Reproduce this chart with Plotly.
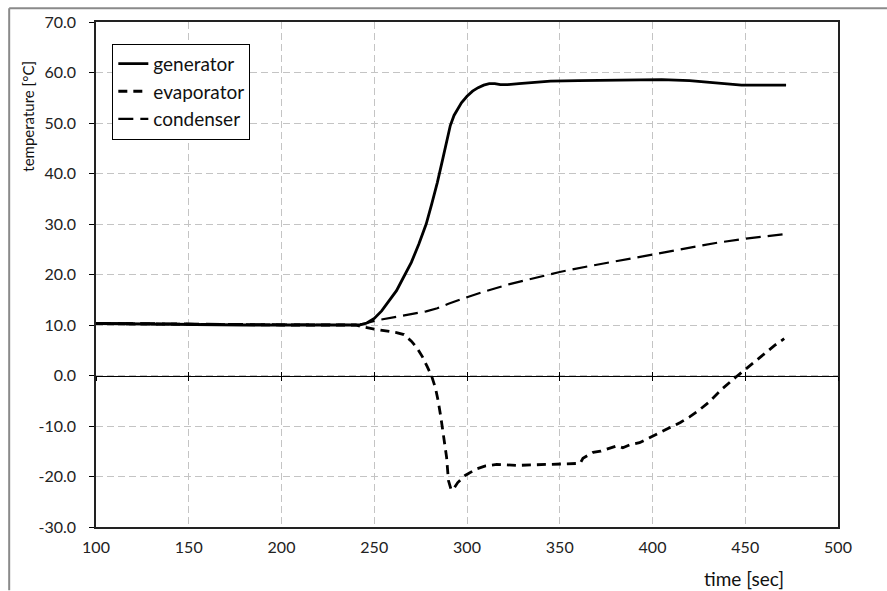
import plotly.graph_objects as go

# ---- data ----
gen_t = [100, 120, 150, 180, 210, 235, 242, 246, 250, 254, 258, 262, 266, 270, 274, 278, 281, 284, 287, 289,
         291, 293, 295, 297, 300, 303, 306, 309, 312, 315, 318, 322, 328, 335, 345, 360, 375, 390, 405, 420,
         430, 440, 448, 460, 472]
gen_v = [10.3, 10.2, 10.1, 10.0, 10.0, 10.0, 10.0, 10.4, 11.3, 12.8, 14.7, 16.8, 19.6, 22.4, 26.0, 30.0, 34.0, 38.2, 43.0, 46.5,
         49.5, 51.5, 52.9, 54.0, 55.3, 56.3, 57.0, 57.5, 57.8, 57.8, 57.6, 57.6, 57.8, 58.0, 58.3, 58.4, 58.5, 58.6, 58.6, 58.4,
         58.1, 57.7, 57.5, 57.5, 57.5]

evap_t = [100, 150, 200, 240, 244, 250, 256, 262, 266, 270, 273, 276, 278.5, 281, 283, 284.5, 286, 287.5, 289, 290,
          291.5, 293, 295, 299, 305, 310, 316, 327, 340, 350, 361, 362.5, 365, 368, 372, 375, 378, 381, 384, 388,
          393, 400, 405, 411, 415, 420, 425, 430, 438, 445, 452, 460, 466, 471]
evap_v = [10.3, 10.1, 10.0, 10.0, 9.6, 9.2, 8.9, 8.5, 8.1, 6.8, 5.5, 3.7, 1.8, -0.2, -2.5, -5.1, -8.5, -12.0, -16.2, -20.8,
          -22.7, -22.3, -21.2, -19.8, -18.5, -17.9, -17.6, -17.8, -17.6, -17.5, -17.4, -16.4, -15.8, -15.2, -15.0, -14.6, -14.3, -13.9, -14.3, -13.7,
          -13.3, -12.0, -11.1, -10.0, -9.3, -8.2, -6.9, -5.4, -2.5, -0.3, 1.8, 4.3, 6.0, 7.3]

cond_t = [100, 150, 200, 240, 245, 251, 260, 270, 278, 284, 290, 300, 310, 323, 335, 350, 365, 377, 390, 404,
          420, 435, 450, 462, 471]
cond_v = [10.4, 10.2, 10.1, 10.0, 10.3, 10.9, 11.5, 12.1, 12.7, 13.3, 14.2, 15.5, 16.7, 18.1, 19.2, 20.5, 21.6, 22.4, 23.3, 24.2,
          25.3, 26.3, 27.1, 27.6, 28.0]

x_ticks = [100, 150, 200, 250, 300, 350, 400, 450, 500]
y_ticks = [-30, -20, -10, 0, 10, 20, 30, 40, 50, 60, 70]
y_labels = [f"{v:.1f}" for v in y_ticks]

FONT = "Lato, 'Open Sans', sans-serif"

fig = go.Figure()
fig.add_trace(go.Scatter(x=gen_t, y=gen_v, mode="lines", name="generator",
                         line=dict(color="black", width=2.8)))
fig.add_trace(go.Scatter(x=evap_t, y=evap_v, mode="lines", name="evaporator",
                         line=dict(color="black", width=2.8, dash="9px,6px")))
fig.add_trace(go.Scatter(x=cond_t, y=cond_v, mode="lines", name="condenser",
                         line=dict(color="black", width=2.2, dash="15px,7px")))
# invisible helpers so the zero-line tick axes are drawn
fig.add_trace(go.Scatter(x=[x_ticks[0]], y=[0], xaxis="x2", mode="markers",
                         marker=dict(opacity=0), showlegend=False, hoverinfo="skip"))
fig.add_trace(go.Scatter(x=[x_ticks[0]], y=[0], xaxis="x3", mode="markers",
                         marker=dict(opacity=0), showlegend=False, hoverinfo="skip"))

grid = dict(showgrid=True, gridcolor="#c4c4c4", gridwidth=1, griddash="7px,4px")
zero_pos = (0 - y_ticks[0]) / (y_ticks[-1] - y_ticks[0])

fig.update_layout(
    width=887, height=591,
    margin=dict(l=96, r=49, t=17, b=64),
    paper_bgcolor="white", plot_bgcolor="white",
    font=dict(family=FONT, size=15, color="#222"),
    showlegend=True,
    legend=dict(x=0.022, y=0.957, xanchor="left", yanchor="top",
                bgcolor="white", bordercolor="black", borderwidth=1,
                font=dict(size=19, family=FONT, color="#111"),
                tracegroupgap=0, itemwidth=30),
    xaxis=dict(range=[x_ticks[0], x_ticks[-1]], tickvals=x_ticks, ticks="", showline=True,
               linecolor="#222", linewidth=1.5, mirror=True, zeroline=False,
               tickfont=dict(size=16), ticklabelstandoff=5, **grid),
    xaxis2=dict(overlaying="x", matches="x", anchor="free", position=zero_pos, side="bottom",
                tickvals=x_ticks, showticklabels=False, ticks="outside", ticklen=4,
                tickcolor="black", tickwidth=1.3, showline=True, linecolor="black",
                linewidth=1.3, showgrid=False, zeroline=False),
    xaxis3=dict(overlaying="x", matches="x", anchor="free", position=zero_pos, side="bottom",
                tickvals=x_ticks, showticklabels=False, ticks="inside", ticklen=4,
                tickcolor="black", tickwidth=1.3, showline=False, showgrid=False, zeroline=False),
    yaxis=dict(range=[y_ticks[0], y_ticks[-1]], tickvals=y_ticks, ticktext=y_labels,
               ticks="outside", ticklen=5, tickcolor="black", showline=True,
               linecolor="#222", linewidth=1.5, mirror=True, zeroline=False,
               tickfont=dict(size=16), ticklabelstandoff=10, **grid),
    annotations=[
        dict(text="time [sec]", xref="paper", yref="paper", x=0.873, y=-0.102,
             xanchor="center", yanchor="middle", showarrow=False,
             font=dict(size=19, family=FONT, color="#111")),
        dict(text="temperature [°C]", xref="paper", yref="paper", x=-0.092, y=0.814,
             xanchor="center", yanchor="middle", showarrow=False, textangle=-90,
             font=dict(size=15, family=FONT, color="#111")),
    ],
    shapes=[
        dict(type="line", xref="paper", yref="paper", x0=-0.117, x1=-0.117, y0=-0.125, y1=1.027,
             line=dict(color="#8a8a8a", width=2), layer="below"),
        dict(type="line", xref="paper", yref="paper", x0=-0.117, x1=1.066, y0=1.027, y1=1.027,
             line=dict(color="#8a8a8a", width=2), layer="below"),
    ],
)

fig.write_html("out.html")
